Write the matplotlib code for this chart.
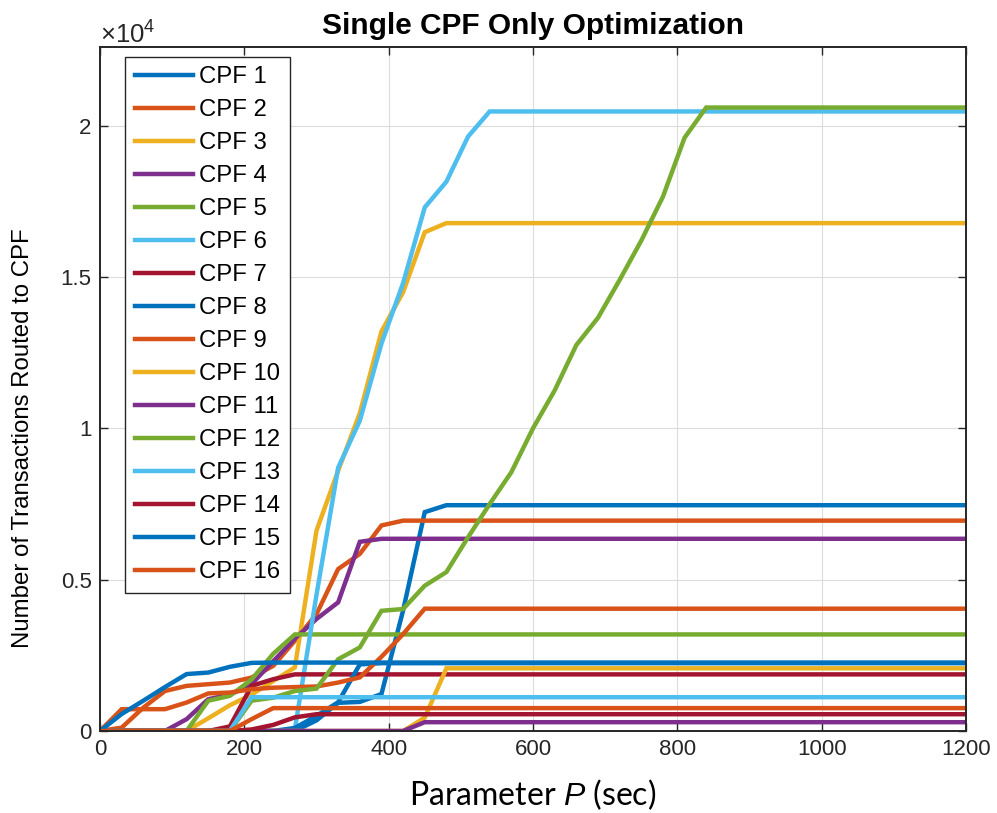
import numpy as np
import matplotlib
matplotlib.use("Agg")
import matplotlib.pyplot as plt
from matplotlib.ticker import FuncFormatter, MultipleLocator

# Sweep of the parameter P (seconds)
p_sec = np.arange(0, 1201, 30)

# Transactions routed to each CPF at every value of P
cpf1 = [0] * 10 + [350, 930, 960, 1220, 3980, 7230] + [7460] * 25
cpf2 = [0, 110, 770, 1320, 1490, 1545, 1600, 1765, 2150, 2980, 3860, 5350, 5850, 6790] + [6950] * 27
cpf3 = [0] * 5 + [420, 850, 1200, 1650, 2100, 6620, 8600, 10500, 13200, 14500, 16480] + [16780] * 25
cpf4 = [0] * 4 + [390, 1050, 1200, 1550, 2300, 3050, 3700, 4250, 6250] + [6350] * 28
cpf5 = [0] * 5 + [1000, 1160, 1700, 2550] + [3190] * 32
cpf6 = [0] * 9 + [50, 4500, 8700, 10250, 12800, 14800, 17300, 18150, 19640] + [20470] * 23
cpf7 = [0] * 6 + [150, 1490, 1710] + [1870] * 32
cpf8 = [0] * 9 + [100, 500, 950, 2200] + [2240] * 28
cpf9 = [0, 720, 720, 720, 940, 1240, 1270, 1380, 1430, 1450, 1470, 1600, 1770, 2450, 3200] + [4040] * 26
cpf10 = [0] * 15 + [440] + [2070] * 25
cpf11 = [0] * 15 + [290] * 26
cpf12 = [0] * 7 + [1000, 1100, 1320, 1400, 2370, 2760, 3970, 4030, 4800, 5250, 6400, 7500,
                   8550, 10000, 11250, 12750, 13650, 14900, 16200, 17650, 19600] + [20600] * 13
cpf13 = [0] * 7 + [1116] * 34
cpf14 = [0] * 7 + [50, 200, 450] + [553] * 31
cpf15 = [0, 560, 1000, 1450, 1880, 1930, 2120, 2250] + [2260] * 33
cpf16 = [0] * 7 + [390] + [755] * 33

series = [cpf1, cpf2, cpf3, cpf4, cpf5, cpf6, cpf7, cpf8,
          cpf9, cpf10, cpf11, cpf12, cpf13, cpf14, cpf15, cpf16]
labels = [f"CPF {i}" for i in range(1, 17)]

colors = ["#0072BD", "#D95319", "#EDB120", "#7E2F8E",
          "#77AC30", "#4DBEEE", "#A2142F"]

plt.rcParams["font.family"] = ["Liberation Sans", "DejaVu Sans"]
plt.rcParams["mathtext.fontset"] = "custom"
plt.rcParams["mathtext.rm"] = "Liberation Sans"
plt.rcParams["mathtext.it"] = "Liberation Sans:italic"

fig = plt.figure(figsize=(9.97, 8.13), dpi=100)
ax = fig.add_axes([0.1003, 0.1009, 0.8686, 0.8413])

for i, (vals, lab) in enumerate(zip(series, labels)):
    ax.plot(p_sec, vals, color=colors[i % len(colors)], lw=3.2,
            label=lab, solid_joinstyle="miter")

ax.set_xlim(0, 1200)
ax.set_ylim(0, 22600)
ax.xaxis.set_major_locator(MultipleLocator(200))
ax.yaxis.set_major_locator(MultipleLocator(5000))
ax.yaxis.set_major_formatter(FuncFormatter(lambda v, _: f"{v / 1e4:g}"))

ax.grid(True, color="#DCDCDC", lw=0.8)
ax.set_axisbelow(True)
ax.tick_params(direction="in", length=6, width=1.0, colors="#262626",
               labelsize=16, top=True, right=True, pad=6)
for sp in ax.spines.values():
    sp.set_color("#262626")
    sp.set_linewidth(1.4)

ax.text(0.0, 0.998, r"$\times10^{4}$", transform=ax.transAxes,
        ha="left", va="bottom", fontsize=18.5, color="#262626")

ax.set_title("Single CPF Only Optimization", fontsize=21.5, fontweight="bold", pad=9)
ax.set_xlabel(r"Parameter $P$ (sec)", fontsize=23, family=["Lato", "DejaVu Sans"],
              labelpad=12)
ax.set_ylabel("Number of Transactions Routed to CPF", fontsize=17.3)
ax.yaxis.set_label_coords(-0.076, 0.428)

leg = ax.legend(loc="upper left", bbox_to_anchor=(0.029, 0.986), borderaxespad=0,
                fontsize=17.2, handlelength=2.45, labelspacing=0.46, handletextpad=0.25,
                borderpad=0.4, fancybox=False, framealpha=1, edgecolor="#262626")
leg.get_frame().set_linewidth(1.0)

fig.savefig("out.png", dpi=100)
